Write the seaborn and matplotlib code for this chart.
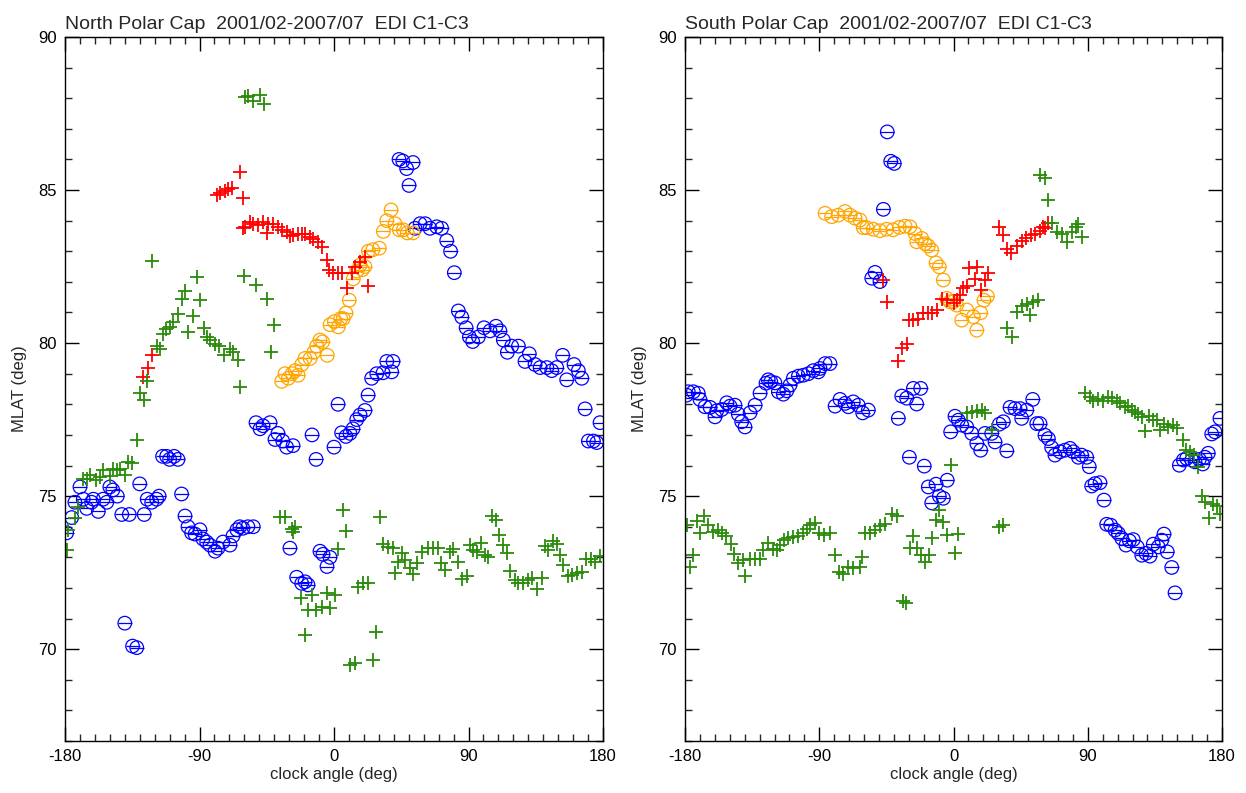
import numpy as np
import pandas as pd
import matplotlib
matplotlib.use("Agg")
import matplotlib.pyplot as plt
import seaborn as sns
from matplotlib.ticker import MultipleLocator

# ---------------- data (clock angle deg, MLAT deg) ----------------
north_blue = [(-178.9,73.8),(-175.5,74.3),(-173.4,74.8),(-170,75.3),(-167.8,74.9),(-165.5,74.6),(-162.2,74.8),(-161,74.9),(-157.7,74.5),(-154.5,74.9),
    (-152,74.8),(-150,75.3),(-148,75.2),(-145,75.0),(-142,74.4),(-140,70.85),(-137,74.4),(-134.8,70.1),(-132,70.05),(-130,75.4),
    (-127,74.4),(-125,74.9),(-122,74.8),(-118.7,74.9),(-117,75.0),(-114.7,76.3),(-112,76.3),(-110,76.2),(-107,76.3),(-104.4,76.2),
    (-102,75.07),(-99.7,74.35),(-97.7,74.0),(-95.3,73.8),(-93,73.76),(-89.7,73.9),(-87.7,73.6),(-85.2,73.5),(-83,73.4),(-79.6,73.2),
    (-77.6,73.3),(-74.3,73.5),(-69.6,73.4),(-67.6,73.7),(-65,73.9),(-63,74.0),(-61,73.95),(-57.6,74.0),(-54,74.0),(-52.2,77.4),
    (-49.5,77.2),(-47.5,77.3),(-42.8,77.4),(-39.5,76.85),(-37.5,77.05),(-34.3,76.8),(-31.7,76.6),(-29.5,73.3),(-27.4,76.65),(-25,72.35),
    (-21.6,72.15),(-19.4,72.2),(-17.4,72.1),(-14.7,77.0),(-12,76.2),(-9.4,73.2),(-7.4,73.1),(-4.7,72.7),(-2.7,73.0),(0,76.6),
    (2.7,78.0),(5.1,77.07),(8,76.95),(10.7,77.05),(12.7,77.2),(15.2,77.5),(17.4,77.65),(20.7,77.8),(22.8,78.3),(25.2,78.85),
    (28.6,79.0),(32.8,79.03),(35.3,79.4),(38.6,79.06),(39.5,79.4),(43.5,86.0),(46,85.95),(48.6,85.7),(50.2,85.15),(52.9,85.9),
    (54.2,83.75),(57.6,83.9),(61,83.9),(64.2,83.75),(68.7,83.8),(72,83.75),(75.4,83.35),(78,83.0),(80.5,82.3),(83.2,81.05),
    (85.5,80.85),(88.4,80.5),(90.6,80.2),(92.8,80.05),(96.6,80.2),(100.4,80.5),(104.4,80.4),(108.4,80.55),(111,80.4),(113.3,80.1),
    (116,79.7),(118.9,79.9),(123.4,79.9),(127.8,79.4),(130.7,79.65),(134.5,79.3),(137.9,79.2),(142.4,79.2),(145.7,79.1),(149,79.2),
    (153,79.6),(155.7,78.8),(160.6,79.3),(163.5,79.1),(165.8,78.85),(168,77.85),(170.2,76.8),(173.6,76.8),(175.8,76.75),(178,77.4)]

north_orange = [(-35,78.75),(-32.8,79.0),(-30.6,78.85),(-28,79.0),(-26,79.1),(-24,78.95),(-21.6,79.3),(-19.4,79.5),(-16,79.5),(-13.5,79.7),
    (-11.6,79.9),(-9.4,80.1),(-7.6,80.04),(-4.5,79.6),(-2.7,80.6),(0.2,80.7),(2.9,80.53),(4.5,80.8),(6.2,80.8),(8,80.98),
    (10.2,81.4),(12.9,82.1),(15.2,82.35),(17.4,82.55),(19,82.4),(20.7,82.5),(23,83.0),(26,83.05),(30.3,83.1),(33,83.65),
    (35.3,84.0),(38.2,84.35),(40.8,83.9),(43.7,83.7),(46.4,83.7),(49,83.6),(52.9,83.6)]

north_red = [(-127.6,78.9),(-124.3,79.17),(-122,79.6),(-78.5,84.84),(-76.3,84.9),(-73,84.98),(-70.7,85.05),(-68.5,85.07),(-63,85.6),(-61,84.75),
    (-60.7,83.75),(-59.6,83.8),(-56.2,83.95),(-54,83.9),(-50.7,83.85),(-47.3,83.96),(-45,83.6),(-44,83.9),(-40.6,83.9),(-37.3,83.8),
    (-35,83.7),(-31.7,83.64),(-29.5,83.5),(-27.2,83.53),(-23.9,83.55),(-21.6,83.58),(-19.4,83.56),(-16,83.47),(-13.9,83.4),(-10.5,83.3),
    (-8.2,83.15),(-4.9,82.7),(-3.1,82.4),(-0.4,82.3),(2.9,82.3),(5.1,82.3),(8.5,81.8),(11.8,82.3),(14,82.5),(17.4,82.66),
    (20.7,82.8),(23,81.86)]

north_green = [(-178.9,73.24),(-177.8,73.9),(-173.4,74.27),(-171.2,74.65),(-167.8,75.55),(-165.5,75.57),(-163.3,75.7),(-159.3,75.52),(-156.6,75.63),(-154.4,75.85),
    (-150,75.65),(-147.7,75.88),(-145.5,75.85),(-143.2,75.9),(-140,75.7),(-137.7,76.12),(-135.4,76.07),(-132,76.83),(-129.9,78.36),(-127.2,78.14),
    (-125.4,78.77),(-122,82.68),(-118.7,79.9),(-116.5,79.8),(-114.7,80.3),(-112.4,80.45),(-109.8,80.53),(-107.6,80.7),(-104.2,80.95),(-102,81.43),
    (-99.7,81.7),(-97.5,80.37),(-94.6,80.9),(-91.9,82.17),(-89.7,81.4),(-87,80.48),(-85.2,80.2),(-83,80.1),(-79.6,79.97),(-76.8,79.9),
    (-73.6,79.6),(-69.6,79.8),(-67.4,79.7),(-64,79.45),(-62.9,78.55),(-60.2,82.2),(-59.6,88.05),(-57.4,88.07),(-54,87.9),(-52.2,81.9),
    (-49.5,88.1),(-46.9,87.8),(-44.6,81.43),(-42.4,79.7),(-40,80.6),(-36.1,74.32),(-32.8,74.32),(-28.3,73.94),(-27.2,73.83),(-26.1,74.0),
    (-22,71.66),(-19.4,70.46),(-17.2,71.27),(-15,71.77),(-12,71.27),(-8.2,71.38),(-4.9,71.84),(-2.7,71.36),(0.7,71.77),(2.9,73.27),
    (5.8,74.56),(8,73.86),(10.7,69.48),(14,69.55),(16.3,72.04),(19.6,72.15),(23,72.17),(25.9,69.64),(28.1,70.57),(30.8,74.32),
    (33,73.43),(36.4,73.34),(39.7,73.29),(40.8,72.5),(43,72.85),(45.3,73.15),(47.5,72.9),(50.9,72.64),(53.1,72.45),(55.4,72.8),
    (58.7,73.18),(63.1,73.29),(66.5,73.29),(69.8,73.29),(71.4,72.82),(74.3,72.58),(77.6,73.18),(79.9,73.26),(83.2,72.85),(85.5,72.28),
    (88.8,72.38),(91,73.4),(93.2,73.24),(95.5,73.18),(98.4,73.47),(101,73.07),(103.3,73.02),(105.6,74.35),(108.4,74.22),(110.4,73.73),
    (113.3,73.4),(116,73.13),(117.8,72.56),(121.2,72.25),(123.4,72.17),(126.7,72.15),(130.1,72.25),(132.3,72.31),(135.7,71.98),(139,72.34),
    (141.2,73.37),(143.4,73.24),(146.8,73.54),(149,73.45),(151.3,73.07),(153.5,72.75),(156.8,72.39),(159.1,72.42),(162.4,72.5),(165.8,72.53),
    (168.7,72.93),(171.8,72.93),(174.7,72.85),(178,73.04)]

south_blue = [(-179,78.3),(-177.8,78.41),(-174.4,78.41),(-171.1,78.36),(-170,78.16),(-166.6,77.92),(-163.2,77.9),(-159.9,77.59),(-158.7,77.79),(-155.4,77.83),
    (-152,78.05),(-149.8,77.94),(-146.5,77.97),(-144.3,77.68),(-142,77.43),(-139.8,77.26),(-136.4,77.72),(-133,77.97),(-129.7,78.36),(-125.7,78.69),
    (-124.2,78.8),(-122.5,78.74),(-119.7,78.7),(-117.4,78.41),(-114.1,78.33),(-111.8,78.44),(-109.6,78.63),(-107.4,78.85),(-104,78.92),(-100.7,78.95),
    (-97.3,79.0),(-94,79.1),(-90.6,79.06),(-89.5,79.17),(-86.1,79.33),(-82.8,79.33),(-79.4,77.94),(-76.1,78.16),(-72.7,78.03),(-70.5,77.92),
    (-67.2,78.08),(-63.8,77.97),(-60.9,77.72),(-57.1,77.81),(-54.8,82.12),(-52.6,82.31),(-49.3,82.01),(-47,84.37),(-44.4,86.9),(-42.1,85.94),
    (-39.7,85.87),(-37,77.54),(-34.7,78.27),(-31.4,78.2),(-29.6,76.27),(-26.9,78.52),(-24.7,78.01),(-22,78.52),(-19.6,75.98),(-16.9,75.3),
    (-14.6,74.78),(-11.7,75.39),(-9.5,75.0),(-6.8,74.93),(-4.2,75.52),(-1.9,77.1),(1,77.61),(3.2,77.48),(5.5,77.32),(8.9,77.26),
    (12.2,77.05),(15.6,76.72),(18.2,76.5),(21.1,77.05),(25.6,77.05),(27.8,76.77),(30.7,77.35),(33.4,77.43),(35.7,76.48),(37.9,77.9),
    (41.2,77.86),(44.6,77.86),(45.7,77.54),(49.1,77.81),(53.1,78.16),(55.8,77.37),(58,77.37),(61.3,76.99),(63.6,76.88),(65.8,76.59),
    (68,76.34),(71.4,76.45),(74.7,76.5),(78.1,76.56),(80.3,76.45),(83.7,76.27),(85.9,76.34),(89.3,76.27),(91,75.96),(92.6,75.33),
    (94.9,75.41),(98.2,75.44),(100.9,74.87),(102.7,74.08),(105.4,74.05),(108.3,73.89),(110.5,73.78),(112.8,73.62),(115.6,73.4),(117.9,73.54),
    (120.5,73.58),(123.2,73.34),(126.2,73.07),(129,73.13),(131.7,73.04),(133.9,73.43),(137.3,73.34),(139.6,73.56),(141.1,73.76),(143.3,73.18),
    (146.3,72.67),(148.5,71.84),(151.4,76.01),(154.1,76.18),(156.3,76.23),(159.7,76.18),(161.9,76.12),(164.8,76.2),(167.1,76.05),(168.6,76.27),
    (170.8,76.4),(173.1,77.03),(175.3,77.1),(178.6,77.54)]

south_orange = [(-86.1,84.24),(-81.7,84.13),(-77.2,84.18),(-72.7,84.3),(-69.4,84.18),(-66,84.08),(-62.7,84.02),(-60.5,83.77),(-58.2,83.77),(-53.8,83.72),
    (-49.3,83.67),(-44.8,83.72),(-40.5,83.7),(-36.3,83.78),(-32.5,83.82),(-29.2,83.8),(-25.8,83.58),(-24.7,83.31),(-21.3,83.42),(-19.1,83.25),
    (-16.9,83.17),(-14.6,83.04),(-11.7,82.62),(-9.5,82.49),(-6.8,82.06),(-4.6,81.46),(-2.3,81.35),(0,81.35),(2.1,81.24),(5.5,80.75),
    (8.9,81.08),(13.3,80.86),(15.6,80.42),(18.2,80.99),(20.4,81.4),(22.7,81.53)]

south_red = [(-47,82.06),(-44.8,81.33),(-37,79.4),(-34.7,79.83),(-31.4,79.97),(-29.6,80.75),(-26.9,80.75),(-23.6,80.8),(-20.2,80.97),(-16.9,80.97),
    (-14.6,80.99),(-11.3,81.08),(-7.9,81.43),(-4.6,81.41),(0,81.3),(2.1,81.41),(4.4,81.57),(6.6,81.79),(8.9,81.86),(10.6,82.44),
    (14.4,82.11),(16,82.49),(18.2,81.73),(21.1,82.06),(23.3,82.3),(30.7,83.8),(33.4,83.53),(35.7,83.06),(38.3,82.95),(42.4,83.17),
    (45.7,83.35),(48.4,83.42),(51.8,83.53),(54.6,83.58),(58,83.67),(60.2,83.8),(61.3,83.75),(63.6,83.91)]

south_green = [(-178.9,74.05),(-176.6,72.67),(-174.4,73.07),(-172.2,74.19),(-170,73.78),(-167.3,74.35),(-164.4,74.05),(-161,73.84),(-157.7,73.89),(-155.4,73.78),
    (-152.5,73.69),(-149.4,73.45),(-147.1,73.1),(-144.3,72.82),(-140.9,72.91),(-139.8,72.39),(-136.4,72.93),(-133.1,72.93),(-129.7,72.93),(-127.5,73.24),
    (-124.2,73.48),(-120.8,73.26),(-118.5,73.24),(-116.3,73.4),(-113.6,73.58),(-110.7,73.62),(-107.4,73.67),(-104,73.69),(-100.7,73.78),(-98.4,73.91),
    (-96.2,74.05),(-92.9,74.13),(-90,73.8),(-86.8,73.73),(-82.8,73.78),(-79.4,73.07),(-76.6,72.53),(-73.9,72.45),(-70.5,72.69),(-67.2,72.64),
    (-62.7,72.69),(-61.5,73.0),(-59.3,73.78),(-56,73.8),(-52.6,73.89),(-49.3,74.02),(-45.9,74.1),(-41.4,74.43),(-38.1,74.35),(-33.7,71.58),
    (-31.8,71.5),(-29.2,73.29),(-26.9,73.69),(-24.3,73.29),(-22,73.07),(-19.1,72.85),(-16.2,73.07),(-14.6,73.62),(-11.7,74.22),(-9.5,74.54),
    (-6.8,74.16),(-4.2,73.73),(-1.9,76.01),(1,73.15),(3.2,73.76),(8.9,77.72),(12.2,77.75),(15.6,77.79),(18.9,77.83),(21.1,77.7),
    (25.6,77.15),(30.7,73.99),(33.4,74.05),(35.7,80.48),(39,80.2),(42.4,81.03),(45.7,81.21),(49.1,81.27),(51.3,80.92),(53.5,81.35),
    (56.8,81.41),(58,85.5),(61.3,85.38),(63.6,84.67),(65.8,83.93),(69.2,83.64),(72.5,83.58),(75.9,83.31),(79.2,83.64),(82.1,83.8),
    (83.7,83.89),(85.9,83.47),(88.2,78.38),(91.5,78.25),(93.7,78.12),(97.1,78.16),(100.4,78.12),(103.8,78.25),(106.1,78.2),(109.4,78.12),
    (111.6,78.03),(115,77.9),(117.2,77.94),(119.5,77.83),(121.7,77.75),(123.9,77.68),(126.2,77.59),(128.4,77.13),(131.3,77.61),(133.9,77.5),
    (136.2,77.48),(138.4,77.15),(141.1,77.37),(144,77.26),(146.9,77.32),(149.6,77.24),(153.6,76.85),(155.9,76.5),(158.5,76.45),(161.2,76.34),
    (164.1,75.96),(166.4,75.0),(168.6,74.81),(171.5,74.3),(173.8,74.74),(176.4,74.67),(178.6,74.41)]

titles = ["North Polar Cap  2001/02-2007/07  EDI C1-C3",
          "South Polar Cap  2001/02-2007/07  EDI C1-C3"]
x_ticks = [-180, -90, 0, 90, 180]
y_ticks = [70, 75, 80, 85, 90]

# ---------------- style ----------------
sns.set_style("ticks")
plt.rcParams["font.family"] = ["Liberation Sans", "DejaVu Sans"]
plt.rcParams["axes.unicode_minus"] = False

BLUE = "#0000ff"
ORANGE = "#ffa500"
RED = "#ff0000"
GREEN = "#2a8a0a"
S = 95


def df_of(pts):
    return pd.DataFrame(pts, columns=["angle", "mlat"])


def circles(ax, pts, color):
    d = df_of(pts)
    sns.scatterplot(data=d, x="angle", y="mlat", marker="o", s=S, color=color,
                    facecolors="none", edgecolor=color, linewidth=0.9, ax=ax, legend=False)
    sns.scatterplot(data=d, x="angle", y="mlat", marker="_", s=S, color=color,
                    linewidth=0.9, ax=ax, legend=False)


def pluses(ax, pts, color):
    d = df_of(pts)
    sns.scatterplot(data=d, x="angle", y="mlat", marker="+", s=S, color=color,
                    linewidth=1.3, ax=ax, legend=False)


W, H = 1246, 793
fig = plt.figure(figsize=(W / 100, H / 100), dpi=100)
ax1 = fig.add_axes([65 / W, 52 / H, 538 / W, 704 / H])
ax2 = fig.add_axes([685 / W, 52 / H, 537 / W, 704 / H])

panels = [
    (ax1, north_blue, north_orange, north_red, north_green, titles[0]),
    (ax2, south_blue, south_orange, south_red, south_green, titles[1]),
]

for ax, b, o, r, g, t in panels:
    circles(ax, b, BLUE)
    circles(ax, o, ORANGE)
    pluses(ax, r, RED)
    pluses(ax, g, GREEN)
    ax.set_xlim(-180, 180)
    ax.set_ylim(67, 90)
    ax.set_xticks(x_ticks)
    ax.set_yticks(y_ticks)
    ax.set_xticklabels([str(v) for v in x_ticks])
    ax.set_yticklabels([str(v) for v in y_ticks])
    ax.xaxis.set_minor_locator(MultipleLocator(10))
    ax.yaxis.set_minor_locator(MultipleLocator(1))
    ax.tick_params(which="major", direction="in", length=10, width=1.0,
                   top=True, right=True, labelsize=12, pad=6, colors="black")
    ax.tick_params(which="minor", direction="in", length=5, width=1.0,
                   top=True, right=True)
    for sp in ax.spines.values():
        sp.set_visible(True)
        sp.set_linewidth(1.0)
        sp.set_color("black")
    ax.set_xlabel("clock angle (deg)", fontsize=12, labelpad=2)
    ax.set_ylabel("MLAT (deg)", fontsize=12, labelpad=8)
    ax.set_title(t, loc="left", fontsize=14, pad=6)

fig.savefig("out.png", dpi=100, facecolor="white")
